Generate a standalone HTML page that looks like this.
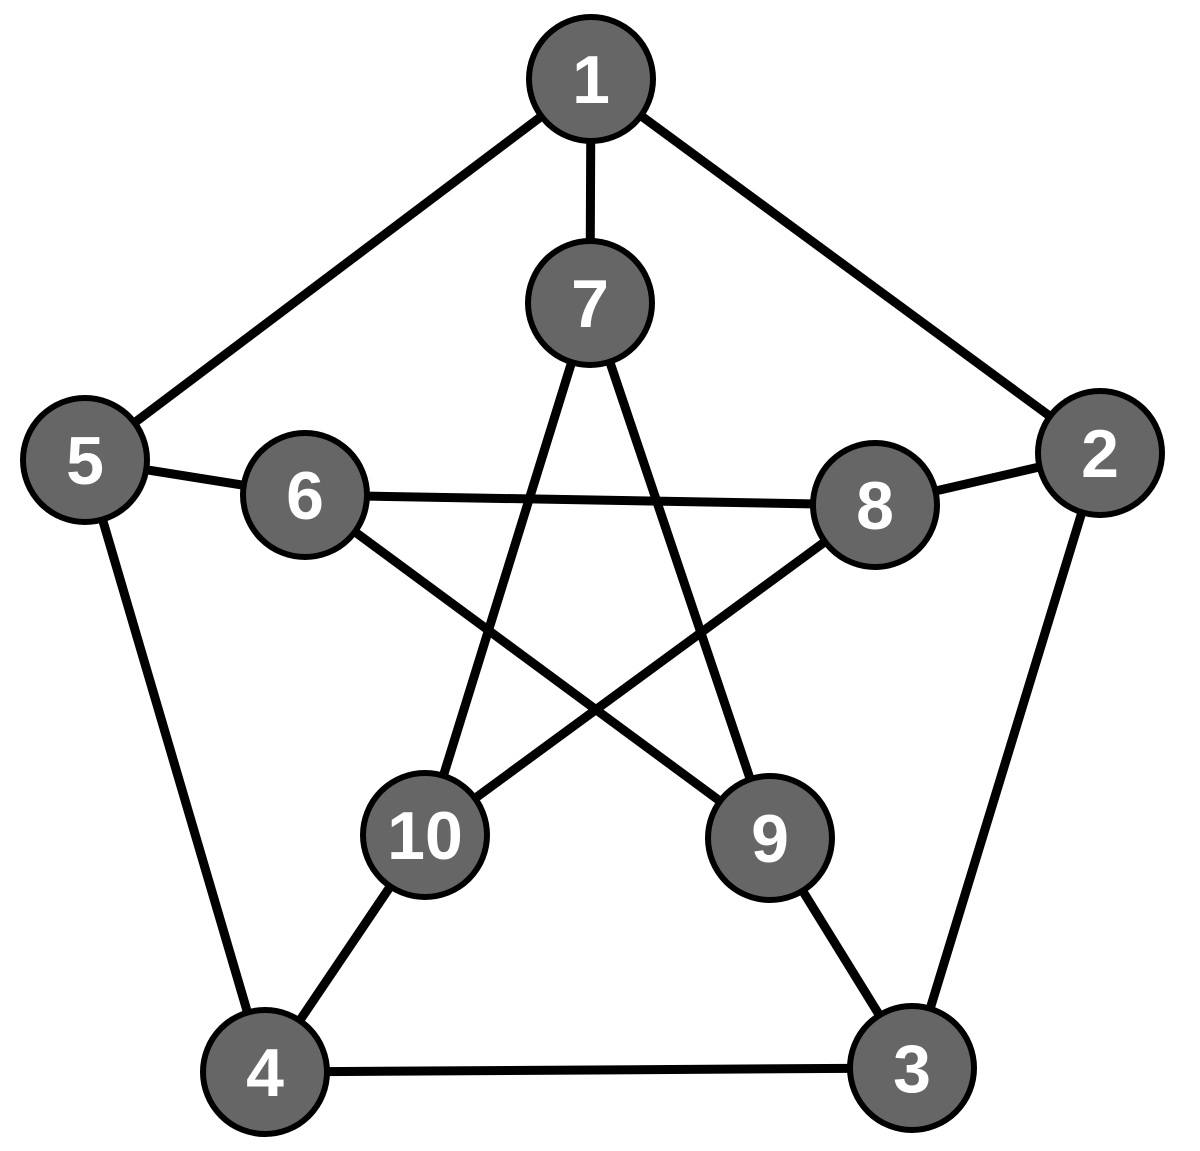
<!DOCTYPE html>
<html><head><style>html,body{margin:0;background:#fff}</style></head><body>
<svg width="1200" height="1146" viewBox="0 0 1200 1146" xmlns="http://www.w3.org/2000/svg">
<g stroke="#000" stroke-width="9" stroke-linecap="round">
<line x1="591" y1="79" x2="85" y2="460"/>
<line x1="591" y1="79" x2="1100" y2="453"/>
<line x1="591" y1="79" x2="590" y2="303"/>
<line x1="85" y1="460" x2="305" y2="495"/>
<line x1="85" y1="460" x2="265" y2="1072"/>
<line x1="1100" y1="453" x2="875" y2="505"/>
<line x1="1100" y1="453" x2="912" y2="1068"/>
<line x1="265" y1="1072" x2="912" y2="1068"/>
<line x1="265" y1="1072" x2="425" y2="835"/>
<line x1="912" y1="1068" x2="770" y2="838"/>
<line x1="590" y1="303" x2="425" y2="835"/>
<line x1="590" y1="303" x2="770" y2="838"/>
<line x1="305" y1="495" x2="875" y2="505"/>
<line x1="305" y1="495" x2="770" y2="838"/>
<line x1="875" y1="505" x2="425" y2="835"/>
</g>
<g fill="#666" stroke="#000" stroke-width="6">
<circle cx="591" cy="79" r="62"/>
<circle cx="590" cy="303" r="62"/>
<circle cx="85" cy="460" r="62"/>
<circle cx="305" cy="495" r="62"/>
<circle cx="875" cy="505" r="62"/>
<circle cx="1100" cy="453" r="62"/>
<circle cx="425" cy="835" r="62"/>
<circle cx="770" cy="838" r="62"/>
<circle cx="265" cy="1072" r="62"/>
<circle cx="912" cy="1068" r="62"/>
</g>
<g fill="#fff" font-family="Liberation Sans, sans-serif" font-weight="bold" font-size="68" text-anchor="middle">
<text x="591" y="103">1</text>
<text x="590" y="327">7</text>
<text x="85" y="484">5</text>
<text x="305" y="519">6</text>
<text x="875" y="529">8</text>
<text x="1100" y="477">2</text>
<text x="425" y="859">10</text>
<text x="770" y="862">9</text>
<text x="265" y="1096">4</text>
<text x="912" y="1092">3</text>
</g>
</svg>
</body></html>
